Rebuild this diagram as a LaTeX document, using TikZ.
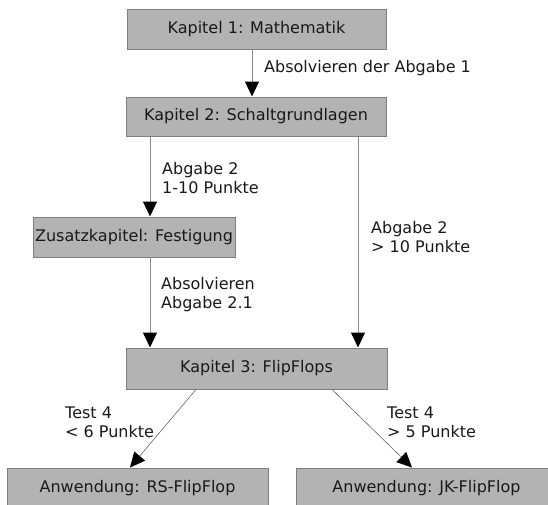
\documentclass[tikz,border=0pt]{standalone}
\usepackage{fontspec}
\setmainfont{DejaVu Sans}
\usetikzlibrary{arrows.meta}
\definecolor{boxfill}{HTML}{B3B3B3}
\definecolor{boxline}{HTML}{7F7F7F}
\definecolor{connline}{HTML}{8A8A8A}
\begin{document}
\begin{tikzpicture}[x=1pt,y=1pt,
  every node/.style={font=\fontsize{16}{19}\selectfont, text=black!90},
  chapter/.style={draw=boxline, fill=boxfill, line width=1pt, inner sep=0pt, minimum height=40pt},
  conn/.style={draw=connline, line width=1pt, -{Triangle[length=15pt,width=14pt,color=black]}},
  diag/.style={draw=black!60, line width=0.6pt, -{Triangle[length=15pt,width=14pt,color=black]}},
  lbl/.style={anchor=west, align=left, inner sep=0pt}]
\useasboundingbox (0,0) rectangle (548,-504);
\node[chapter, minimum width=259pt] (n1) at (256.5,-29) {Kapitel 1: Mathematik};
\node[chapter, minimum width=260pt, minimum height=39pt] (n2) at (256,-116.5) {Kapitel 2: Schaltgrundlagen};
\node[chapter, minimum width=202pt] (nz) at (134,-237) {Zusatzkapitel: Festigung};
\node[chapter, minimum width=261pt, minimum height=41pt] (n3) at (256.5,-368.5) {Kapitel 3: FlipFlops};
\node[chapter, minimum width=261pt] (rs) at (137.5,-488) {Anwendung: RS-FlipFlop};
\node[chapter, minimum width=261pt] (jk) at (426.5,-488) {Anwendung: JK-FlipFlop};

\draw[conn] ([xshift=-4.5pt]n1.south) -- ([xshift=-4pt]n2.north);
\draw[conn] ([xshift=-106pt]n2.south) -- ([xshift=16pt]nz.north);
\draw[conn] ([xshift=102pt]n2.south) -- ([xshift=101.5pt]n3.north);
\draw[conn] ([xshift=16pt]nz.south) -- ([xshift=-106.5pt]n3.north);
\draw[diag] ([xshift=-60.5pt]n3.south) -- ([xshift=-7.5pt]rs.north);
\draw[diag] ([xshift=75.5pt]n3.south) -- ([xshift=-14.5pt]jk.north);

\node[lbl] (l1) at (264,-68) {Absolvieren der Abgabe 1};
\node[lbl] (l2) at (162,-178) {Abgabe 2\\1-10 Punkte};
\node[lbl] (l3) at (371,-237) {Abgabe 2\\> 10 Punkte};
\node[lbl] (l4) at (161,-294.5) {Absolvieren\\Abgabe 2.1};
\node[lbl] (l5) at (65,-422.5) {Test 4\\< 6 Punkte};
\node[lbl] (l6) at (387,-422.5) {Test 4\\> 5 Punkte};
\end{tikzpicture}
\end{document}
